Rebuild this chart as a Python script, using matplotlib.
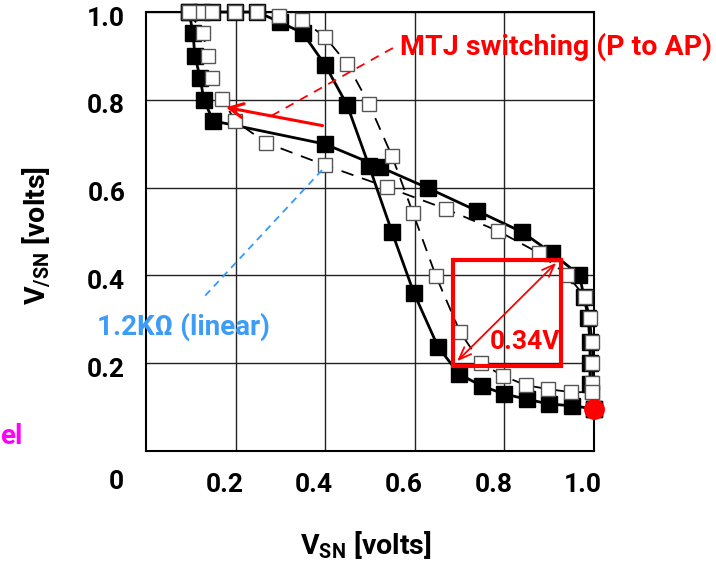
import matplotlib
matplotlib.use("Agg")
import matplotlib.pyplot as plt
import matplotlib.transforms as mtransforms

# ── Data ─────────────────────────────────────────────────────────────────────
# filled squares, solid line: VTC y=f(x) and mirrored VTC x=f(y)
blk1_x = [0.096, 0.125, 0.147, 0.199, 0.248, 0.299, 0.350, 0.400, 0.449, 0.498,
          0.549, 0.598, 0.652, 0.699, 0.750, 0.799, 0.850, 0.900, 0.951, 1.000]
blk1_y = [1.000, 1.000, 1.000, 1.000, 1.000, 0.977, 0.952, 0.879, 0.788, 0.649,
          0.499, 0.360, 0.237, 0.175, 0.148, 0.130, 0.118, 0.107, 0.103, 0.096]
blk2_x = [0.096, 0.105, 0.109, 0.121, 0.129, 0.150, 0.400, 0.522, 0.629, 0.739,
          0.839, 0.906, 0.967, 0.978, 0.987, 0.991, 0.991, 0.991, 1.000]
blk2_y = [1.000, 0.952, 0.900, 0.850, 0.800, 0.752, 0.699, 0.647, 0.599, 0.547,
          0.499, 0.451, 0.401, 0.351, 0.303, 0.248, 0.200, 0.153, 0.096]

# open squares, dashed line
wht1_x = [0.096, 0.125, 0.147, 0.199, 0.248, 0.297, 0.348, 0.400, 0.449, 0.498,
          0.549, 0.596, 0.647, 0.701, 0.748, 0.797, 0.848, 0.897, 0.949, 0.996]
wht1_y = [1.000, 1.000, 1.000, 1.000, 1.000, 0.991, 0.982, 0.943, 0.882, 0.790,
          0.672, 0.542, 0.399, 0.271, 0.200, 0.171, 0.150, 0.141, 0.134, 0.134]
wht2_x = [0.096, 0.127, 0.138, 0.147, 0.170, 0.199, 0.268, 0.400, 0.538, 0.670,
          0.786, 0.877, 0.940, 0.980, 0.991, 0.996, 0.996, 0.996, 0.996]
wht2_y = [1.000, 0.952, 0.900, 0.850, 0.802, 0.752, 0.702, 0.651, 0.601, 0.551,
          0.501, 0.451, 0.401, 0.351, 0.303, 0.248, 0.200, 0.155, 0.134]

state_pt = (1.0, 0.096)

ticks = [0.2, 0.4, 0.6, 0.8, 1.0]
tick_labels = ["0.2", "0.4", "0.6", "0.8", "1.0"]

# ── Style ────────────────────────────────────────────────────────────────────
plt.rcParams.update({
    "font.family": ["Roboto", "DejaVu Sans"],
    "font.weight": "bold",
    "mathtext.fontset": "custom",
    "mathtext.rm": "Roboto:bold",
    "mathtext.bf": "Roboto:bold",
    "mathtext.it": "Roboto:bold",
})

fig = plt.figure(figsize=(7.16, 5.63), dpi=100)
fig.patch.set_facecolor("white")

ax = fig.add_axes([146 / 716, 112 / 563, 448 / 716, 439 / 563])
ax.set_xlim(0, 1.0)
ax.set_ylim(0, 1.0)

ax.set_xticks(ticks)
ax.set_yticks(ticks)
ax.set_xticklabels(tick_labels, fontsize=19, fontweight="bold")
ax.set_yticklabels(tick_labels, fontsize=19, fontweight="bold")
ax.tick_params(length=0, pad=16, axis="x")
ax.tick_params(length=0, pad=15, axis="y")
# labels on the slide sit a little left / below the grid lines
shift_x = mtransforms.ScaledTranslation(-11 / 100, 0, fig.dpi_scale_trans)
shift_y = mtransforms.ScaledTranslation(0, -4 / 100, fig.dpi_scale_trans)
for lab in ax.get_xticklabels():
    lab.set_transform(lab.get_transform() + shift_x)
for lab in ax.get_yticklabels():
    lab.set_transform(lab.get_transform() + shift_y)

ax.grid(True, color="#222222", linewidth=1.0)
ax.set_axisbelow(True)
for sp in ax.spines.values():
    sp.set_linewidth(1.5)
    sp.set_color("black")

ax.text(-0.067, -0.071, "0", fontsize=19, fontweight="bold",
        ha="center", va="center", clip_on=False)

# curves
for xs, ys in [(blk1_x, blk1_y), (blk2_x, blk2_y)]:
    ax.plot(xs, ys, color="black", linewidth=2.0, marker="s", markersize=12,
            markerfacecolor="black", markeredgecolor="black", zorder=3,
            clip_on=False)
for xs, ys in [(wht1_x, wht1_y), (wht2_x, wht2_y)]:
    ax.plot(xs, ys, color="black", linewidth=1.3, linestyle=(0, (7, 5)),
            zorder=4, clip_on=False)
    ax.plot(xs, ys, linestyle="none", marker="s", markersize=9.5,
            markerfacecolor="white", markeredgecolor="#555555",
            markeredgewidth=1.0, zorder=5, clip_on=False)

ax.plot(*state_pt, marker="o", markersize=14, color="red", linestyle="none",
        zorder=6, clip_on=False)

# annotations
ax.plot([0.551, 0.272], [0.918, 0.759], color="red", linewidth=1.3,
        linestyle=(0, (5, 4)), zorder=6)
ax.annotate("", xy=(0.172, 0.784), xytext=(0.400, 0.740),
            arrowprops=dict(arrowstyle="->,head_length=1.0,head_width=0.5",
                            color="red", linewidth=2.2), zorder=6)
ax.text(0.915, 0.920, "MTJ switching (P to AP)", color="red", fontsize=20.5,
        fontweight="bold", ha="center", va="center", clip_on=False)

ax.plot([0.393, 0.125], [0.640, 0.346], color="#3399ff", linewidth=1.3,
        linestyle=(0, (4, 3)), zorder=6)
ax.text(0.083, 0.282, "1.2KΩ (linear)", color="#3d9cf5", fontsize=20,
        fontweight="bold", ha="center", va="center", clip_on=False)

ax.add_patch(plt.Rectangle((0.685, 0.194), 0.241, 0.241, fill=False,
                           edgecolor="red", linewidth=3.0, zorder=7))
ax.annotate("", xy=(0.690, 0.200), xytext=(0.920, 0.433),
            arrowprops=dict(arrowstyle="<->,head_length=0.9,head_width=0.35",
                            color="red", linewidth=1.3), zorder=7)
ax.text(0.845, 0.248, "0.34V", color="red", fontsize=19, fontweight="bold",
        ha="center", va="center", zorder=8)

# axis labels
fig.text(366 / 716, 1 - 545 / 563, r"V$_{\mathrm{SN}}$ [volts]", fontsize=20.5,
         fontweight="bold", ha="center", va="center")
fig.text(37 / 716, 1 - 235 / 563, r"V$_{\mathrm{/SN}}$ [volts]", fontsize=20.5,
         fontweight="bold", ha="center", va="center", rotation=90)

fig.text(0.0, 1 - 437 / 563, "el", color="#ff00ff", fontsize=20,
         fontweight="bold", ha="left", va="center")

fig.savefig("out.png", dpi=100)
